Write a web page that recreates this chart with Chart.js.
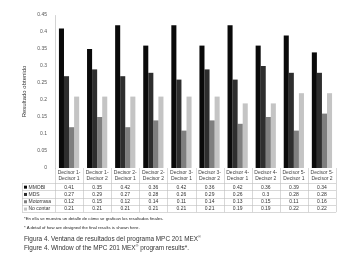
<!DOCTYPE html>
<html>
<head>
<meta charset="utf-8">
<script src="https://cdn.jsdelivr.net/npm/chart.js@4/dist/chart.umd.min.js"></script>
<style>
  html, body { margin: 0; padding: 0; background: #fff; }
  #wrap { position: relative; width: 355px; height: 257px; }
  .note { position: absolute; left: 24px; white-space: nowrap; color: #222; font-family: "Liberation Sans", Arial, sans-serif; }
  .small { font-size: 4.3px; }
  .cap { font-size: 6.4px; color: #333; }
</style>
</head>
<body>
<div id="wrap">
  <canvas id="chart" width="355" height="257"></canvas>
  <div class="note small" style="top:216px">*En ella se muestra un detalle de cómo se grafican los resultados finales.</div>
  <div class="note small" style="top:225px">* A detail of how are designed the final results is shown here.</div>
  <div class="note cap" style="top:234px">Figura 4. Ventana de resultados del programa MPC 201 MEX<sup style="font-size:4px">®</sup></div>
  <div class="note cap" style="top:243px">Figure 4. Window of the MPC 201 MEX<sup style="font-size:4px">®</sup> program results*.</div>
</div>
<script>
const categories = [
  ["Decisor 1-", "Decisor 1"], ["Decisor 1-", "Decisor 2"],
  ["Decisor 2-", "Decisor 1"], ["Decisor 2-", "Decisor 2"],
  ["Decisor 3-", "Decisor 1"], ["Decisor 3-", "Decisor 2"],
  ["Decisor 4-", "Decisor 1"], ["Decisor 4-", "Decisor 2"],
  ["Decisor 5-", "Decisor 1"], ["Decisor 5-", "Decisor 2"]
];
const seriesNames = ["MMOBI", "MDS", "Motorrasa", "No contar"];
const mmobi     = [0.41, 0.35, 0.42, 0.36, 0.42, 0.36, 0.42, 0.36, 0.39, 0.34];
const mds       = [0.27, 0.29, 0.27, 0.28, 0.26, 0.29, 0.26, 0.3, 0.28, 0.28];
const motorrasa = [0.12, 0.15, 0.12, 0.14, 0.11, 0.14, 0.13, 0.15, 0.11, 0.16];
const noContar  = [0.21, 0.21, 0.21, 0.21, 0.21, 0.21, 0.19, 0.19, 0.22, 0.22];
const seriesColors = ["#0a0a0a", "#2e2e2e", "#7f7f7f", "#c4c4c4"];

const allSeries = [mmobi, mds, motorrasa, noContar];
const labelFont = '"Liberation Sans", Arial, sans-serif';

// data table drawn under the category axis, aligned to the x scale
const dataTable = {
  id: 'dataTable',
  afterDraw(chart) {
    const ctx = chart.ctx;
    const x = chart.scales.x;
    const area = chart.chartArea;
    const colW = (area.right - area.left) / categories.length;
    const top = area.bottom + 15;
    const rowH = 7.3;
    const left = 22;
    ctx.save();
    ctx.strokeStyle = '#bdbdbd';
    ctx.lineWidth = 0.6;
    // horizontal lines
    for (let r = 0; r <= allSeries.length; r++) {
      const y = Math.round(top + r * rowH) + 0.5;
      ctx.beginPath();
      ctx.moveTo(left, y);
      ctx.lineTo(area.right, y);
      ctx.stroke();
    }
    // vertical lines
    for (let c = 0; c <= categories.length; c++) {
      const xx = Math.round(area.left + c * colW) + 0.5;
      ctx.beginPath();
      ctx.moveTo(xx, area.bottom);
      ctx.lineTo(xx, top + allSeries.length * rowH);
      ctx.stroke();
    }
    ctx.beginPath();
    ctx.moveTo(left + 0.5, top);
    ctx.lineTo(left + 0.5, top + allSeries.length * rowH);
    ctx.stroke();

    ctx.font = '5px ' + labelFont;
    ctx.textBaseline = 'middle';
    allSeries.forEach((vals, r) => {
      const cy = top + r * rowH + rowH / 2 + 0.5;
      ctx.fillStyle = seriesColors[r];
      ctx.fillRect(left + 2, cy - 1.5, 3, 3);
      ctx.fillStyle = '#333';
      ctx.textAlign = 'left';
      ctx.fillText(seriesNames[r], left + 6.5, cy);
      ctx.textAlign = 'center';
      vals.forEach((v, i) => {
        ctx.fillText(String(v), x.getPixelForValue(i), cy);
      });
    });
    ctx.restore();
  }
};

new Chart(document.getElementById('chart'), {
  type: 'bar',
  data: {
    labels: categories,
    datasets: allSeries.map((vals, i) => ({
      label: seriesNames[i],
      data: vals,
      backgroundColor: seriesColors[i],
      borderWidth: 0,
      categoryPercentage: 0.72,
      barPercentage: 1.0
    }))
  },
  options: {
    responsive: false,
    animation: false,
    layout: { padding: { left: 21, right: 19, top: 15, bottom: 74 } },
    plugins: { legend: { display: false }, tooltip: { enabled: false } },
    scales: {
      x: {
        grid: { display: false, drawTicks: false },
        border: { display: false },
        ticks: { color: '#444', font: { size: 5, family: labelFont, lineHeight: 1.15 }, padding: 2, maxRotation: 0, autoSkip: false },
        afterFit: (s) => { s.height = 15; }
      },
      y: {
        min: 0,
        max: 0.45,
        grid: { display: false, drawTicks: false },
        border: { display: true, color: '#c8c8c8', width: 0.8 },
        ticks: { stepSize: 0.05, color: '#555', font: { size: 5, family: labelFont }, padding: 8,
          callback: (v) => String(Math.round(v * 100) / 100) },
        title: { display: true, text: 'Resultado obtenido', color: '#333', font: { size: 6, family: labelFont }, padding: 0 },
        afterFit: (s) => { s.width = 34; }
      }
    }
  },
  plugins: [dataTable]
});
</script>
</body>
</html>
